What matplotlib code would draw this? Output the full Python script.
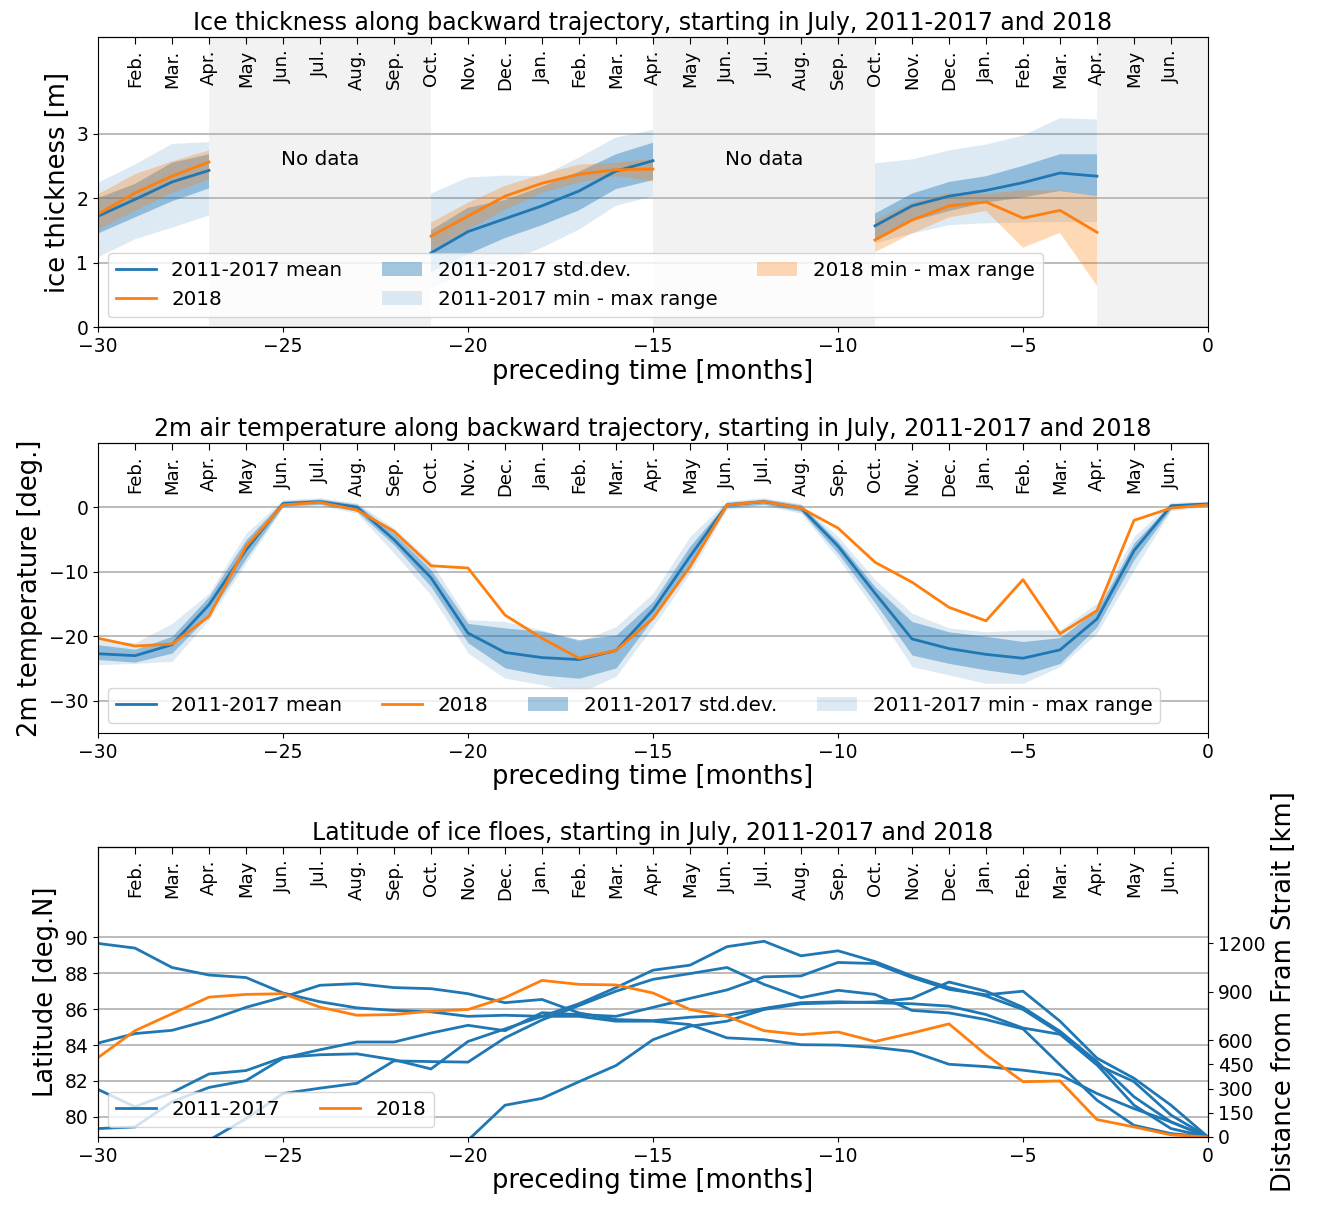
import numpy as np
import matplotlib
matplotlib.use("Agg")
import matplotlib.pyplot as plt

nan = np.nan
months = np.arange(-30, 1)
month_names = ['Jan.', 'Feb.', 'Mar.', 'Apr.', 'May', 'Jun.', 'Jul.', 'Aug.', 'Sep.', 'Oct.', 'Nov.', 'Dec.']
top_ticks = np.arange(-29, 0)
top_labels = [month_names[(6 + m) % 12] for m in top_ticks]

# ---- ice thickness (months -30..0), NaN where no data ----
N5 = [nan] * 5
N3 = [nan] * 3
ice_mean = [1.72, 1.98, 2.25, 2.43] + N5 + [1.15, 1.48, 1.68, 1.88, 2.11, 2.42, 2.58] + N5 + [1.57, 1.88, 2.03, 2.12, 2.24, 2.39, 2.34] + N3
ice_2018 = [1.75, 2.08, 2.34, 2.56] + N5 + [1.41, 1.72, 2.03, 2.23, 2.37, 2.44, 2.45] + N5 + [1.35, 1.66, 1.88, 1.94, 1.69, 1.81, 1.47] + N3
ice_std_lo = [1.45, 1.70, 1.95, 2.15] + N5 + [0.85, 1.13, 1.38, 1.58, 1.81, 2.14, 2.28] + N5 + [1.36, 1.64, 1.80, 1.93, 2.01, 2.11, 2.03] + N3
ice_std_hi = [2.00, 2.22, 2.55, 2.68] + N5 + [1.50, 1.85, 1.97, 2.18, 2.41, 2.68, 2.86] + N5 + [1.76, 2.07, 2.25, 2.34, 2.50, 2.68, 2.68] + N3
ice_mm_lo = [1.08, 1.36, 1.54, 1.73] + N5 + [0.60, 0.85, 1.00, 1.23, 1.51, 1.88, 2.03] + N5 + [1.30, 1.45, 1.58, 1.61, 1.62, 1.63, 1.63] + N3
ice_mm_hi = [2.24, 2.52, 2.84, 2.87] + N5 + [2.07, 2.32, 2.35, 2.34, 2.63, 2.94, 3.06] + N5 + [2.54, 2.60, 2.74, 2.83, 2.97, 3.24, 3.22] + N3
ice18_lo = [1.51, 1.80, 2.08, 2.29] + N5 + [1.18, 1.51, 1.82, 2.08, 2.24, 2.34, 2.26] + N5 + [1.16, 1.45, 1.70, 1.80, 1.23, 1.46, 0.64] + N3
ice18_hi = [2.06, 2.37, 2.57, 2.74] + N5 + [1.62, 1.93, 2.19, 2.37, 2.52, 2.55, 2.61] + N5 + [1.66, 1.93, 2.08, 2.07, 2.12, 2.12, 2.03] + N3
no_data_spans = [(-27, -21), (-15, -9), (-3, 0)]

# ---- 2m air temperature ----
t_mean = [-22.7, -23.0, -21.3, -15.1, -6.6, 0.6, 0.9, 0.05, -5.0, -10.9, -19.5, -22.5, -23.3, -23.6, -22.2, -15.9,
          -7.6, 0.4, 0.9, -0.1, -6.0, -13.3, -20.4, -21.9, -22.8, -23.4, -22.1, -17.3, -6.7, 0.25, 0.55]
t_2018 = [-20.3, -21.5, -21.2, -16.9, -6.05, 0.4, 0.8, -0.4, -3.7, -9.05, -9.4, -16.7, -20.3, -23.4, -22.2, -17.2,
          -9.2, 0.4, 0.9, -0.1, -3.2, -8.5, -11.6, -15.5, -17.6, -11.2, -19.6, -16.0, -2.0, -0.1, 0.4]
t_std_lo = [-23.6, -24.0, -22.6, -16.7, -7.9, 0.2, 0.5, -0.6, -5.8, -12.3, -21.0, -24.9, -26.0, -26.5, -24.9, -17.2,
            -9.2, 0.0, 0.5, -0.6, -7.1, -14.8, -22.9, -24.2, -25.2, -26.0, -24.2, -18.5, -8.1, -0.2, 0.3]
t_std_hi = [-21.3, -22.0, -20.0, -13.8, -5.0, 1.0, 1.3, 0.5, -4.0, -9.7, -18.0, -18.7, -19.2, -20.5, -19.8, -14.6,
            -6.0, 0.8, 1.3, 0.4, -5.3, -12.3, -17.7, -19.3, -20.0, -20.8, -20.2, -15.9, -5.5, 0.6, 0.8]
t_mm_lo = [-24.4, -24.2, -23.9, -17.4, -8.6, 0.0, 0.3, -0.9, -7.1, -13.6, -22.6, -26.5, -27.5, -28.8, -26.2, -18.5,
           -10.2, -0.3, 0.3, -0.9, -7.9, -15.9, -24.7, -26.0, -27.3, -27.3, -24.7, -19.5, -9.7, -0.5, 0.1]
t_mm_hi = [-20.5, -21.0, -18.0, -13.3, -4.0, 1.2, 1.5, 0.7, -3.2, -8.4, -17.4, -17.7, -19.0, -20.8, -18.5, -13.3,
           -4.5, 1.0, 1.5, 0.6, -4.5, -11.2, -16.4, -18.7, -19.3, -19.0, -19.0, -14.8, -4.5, 0.8, 1.0]

# ---- latitude of ice floes ----
lat_2011_2017 = [
    [89.66, 89.4, 88.32, 87.9, 87.76, 86.9, 86.41, 86.07, 85.93, 85.85, 85.6, 85.66, 85.6, 85.6, 85.33, 85.33,
     85.14, 84.4, 84.3, 84.02, 84.0, 83.87, 83.64, 82.93, 82.8, 82.6, 82.34, 81.3, 80.46, 79.72, 78.88],
    [84.11, 84.64, 84.82, 85.38, 86.1, 86.67, 87.33, 87.42, 87.2, 87.14, 86.86, 86.36, 86.54, 85.79, 85.42, 85.36,
     85.55, 85.66, 86.04, 86.36, 86.41, 86.36, 86.3, 86.17, 85.7, 84.95, 84.6, 82.9, 81.96, 80.1, 78.88],
    [81.53, 80.56, 81.35, 82.39, 82.58, 83.31, 83.46, 83.51, 83.18, 82.67, 84.2, 84.9, 85.6, 86.3, 87.2, 88.17,
     88.45, 89.48, 89.78, 88.97, 89.25, 88.65, 87.85, 87.2, 86.73, 85.98, 84.67, 82.9, 80.65, 79.35, 78.88],
    [79.35, 79.44, 80.84, 81.64, 82.02, 83.27, 83.74, 84.17, 84.17, 84.67, 85.1, 84.8, 85.8, 85.7, 85.6, 86.1,
     86.6, 87.07, 87.8, 87.85, 88.6, 88.54, 87.76, 87.1, 86.8, 87.0, 85.33, 83.27, 82.15, 80.65, 78.88],
    [nan, nan, nan, 78.7, 79.9, 81.3, 81.6, 81.87, 83.12, 83.08, 83.05, 84.4, 85.4, 86.2, 87.0, 87.66,
     87.98, 88.32, 87.38, 86.64, 87.05, 86.82, 85.93, 85.79, 85.42, 84.9, 82.9, 80.93, 79.53, 79.07, 78.88],
    [nan, nan, nan, nan, nan, nan, nan, nan, nan, nan, 78.7, 80.65, 81.03, 81.96, 82.86, 84.3,
     85.05, 85.33, 85.98, 86.3, 86.36, 86.4, 86.6, 87.51, 87.0, 86.1, 84.77, 83.08, 81.12, 79.72, 78.88],
]
lat_2018 = [83.3, 84.8, 85.74, 86.67, 86.82, 86.86, 86.11, 85.66, 85.7, 85.89, 85.98, 86.64, 87.6, 87.38, 87.35, 86.9,
            85.98, 85.6, 84.8, 84.58, 84.73, 84.2, 84.67, 85.18, 83.46, 81.96, 82.0, 79.85, 79.44, 79.0, 78.88]
lat_ylim = (78.88, 95.03)
km_per_deg = 111.2
dist_ticks = [0, 150, 300, 450, 600, 900, 1200]

BLUE = '#1f77b4'
ORANGE = '#ff7f0e'
GRID = '#b0b0b0'
TITLE_FS = 17
LABEL_FS = 18.5
TICK_FS = 13.5
MONTH_FS = 13
LEG_FS = 14.3

fig = plt.figure(figsize=(13.19, 12.07), dpi=100)
L, W = 98 / 1319, 1110 / 1319
H = 290 / 1207
ax1 = fig.add_axes([L, 1 - 327 / 1207, W, H])
ax2 = fig.add_axes([L, 1 - 733 / 1207, W, H])
ax3 = fig.add_axes([L, 1 - 1137 / 1207, W, H])


def style(ax, title):
    ax.set_xlim(-30, 0)
    ax.set_xticks([-30, -25, -20, -15, -10, -5, 0])
    ax.tick_params(labelsize=TICK_FS)
    ax.yaxis.grid(True, color=GRID, lw=1.2)
    ax.set_axisbelow(True)
    ax.set_xlabel('preceding time [months]', fontsize=LABEL_FS, labelpad=2)
    ax.set_title(title, fontsize=TITLE_FS, pad=5)
    sec = ax.secondary_xaxis('top')
    sec.tick_params(direction='in', length=5, pad=-9)
    sec.set_xticks(top_ticks)
    sec.set_xticklabels(top_labels, rotation=90, va='top', fontsize=MONTH_FS)


# ---- panel 1 ----
m = months
for a, b in no_data_spans:
    ax1.axvspan(a, b, color='k', alpha=0.05, lw=0, zorder=0)
ax1.fill_between(m, ice_std_lo, ice_std_hi, color=BLUE, alpha=0.4, lw=0, label='2011-2017 std.dev.')
ax1.fill_between(m, ice_mm_lo, ice_mm_hi, color=BLUE, alpha=0.15, lw=0, label='2011-2017 min - max range')
ax1.fill_between(m, ice18_lo, ice18_hi, color=ORANGE, alpha=0.3, lw=0, label='2018 min - max range')
ax1.plot(m, ice_mean, color=BLUE, lw=2, label='2011-2017 mean')
ax1.plot(m, ice_2018, color=ORANGE, lw=2, label='2018')
ax1.text(-24, 2.6, 'No data', ha='center', va='center', fontsize=LEG_FS)
ax1.text(-12, 2.6, 'No data', ha='center', va='center', fontsize=LEG_FS)
ax1.set_ylim(0, 4.5)
ax1.set_yticks([0, 1, 2, 3])
ax1.set_ylabel('ice thickness [m]', fontsize=LABEL_FS)
style(ax1, 'Ice thickness along backward trajectory, starting in July, 2011-2017 and 2018')
h, l = ax1.get_legend_handles_labels()
order = [3, 4, 0, 1, 2]
ax1.legend([h[i] for i in order], [l[i] for i in order], ncol=3, loc='lower left', fontsize=LEG_FS)

# ---- panel 2 ----
ax2.fill_between(m, t_std_lo, t_std_hi, color=BLUE, alpha=0.4, lw=0, label='2011-2017 std.dev.')
ax2.fill_between(m, t_mm_lo, t_mm_hi, color=BLUE, alpha=0.15, lw=0, label='2011-2017 min - max range')
ax2.plot(m, t_mean, color=BLUE, lw=2, label='2011-2017 mean')
ax2.plot(m, t_2018, color=ORANGE, lw=2, label='2018')
ax2.set_ylim(-35, 10)
ax2.set_yticks([-30, -20, -10, 0])
ax2.set_ylabel('2m temperature [deg.]', fontsize=LABEL_FS)
style(ax2, '2m air temperature along backward trajectory, starting in July, 2011-2017 and 2018')
h, l = ax2.get_legend_handles_labels()
order = [2, 3, 0, 1]
ax2.legend([h[i] for i in order], [l[i] for i in order], ncol=4, loc='lower left', fontsize=LEG_FS)

# ---- panel 3 ----
for i, lat in enumerate(lat_2011_2017):
    ax3.plot(m, lat, color=BLUE, lw=2, label='2011-2017' if i == 0 else None)
ax3.plot(m, lat_2018, color=ORANGE, lw=2, label='2018')
ax3.set_ylim(*lat_ylim)
ax3.set_yticks([80, 82, 84, 86, 88, 90])
ax3.set_ylabel('Latitude [deg.N]', fontsize=LABEL_FS)
style(ax3, 'Latitude of ice floes, starting in July, 2011-2017 and 2018')
ax3.legend(ncol=2, loc='lower left', fontsize=LEG_FS)
axr = ax3.twinx()
axr.set_ylim(0, (lat_ylim[1] - lat_ylim[0]) * km_per_deg)
axr.set_yticks(dist_ticks)
axr.tick_params(labelsize=TICK_FS)
axr.set_ylabel('Distance from Fram Strait [km]', fontsize=LABEL_FS)

fig.savefig('out.png', dpi=100)
